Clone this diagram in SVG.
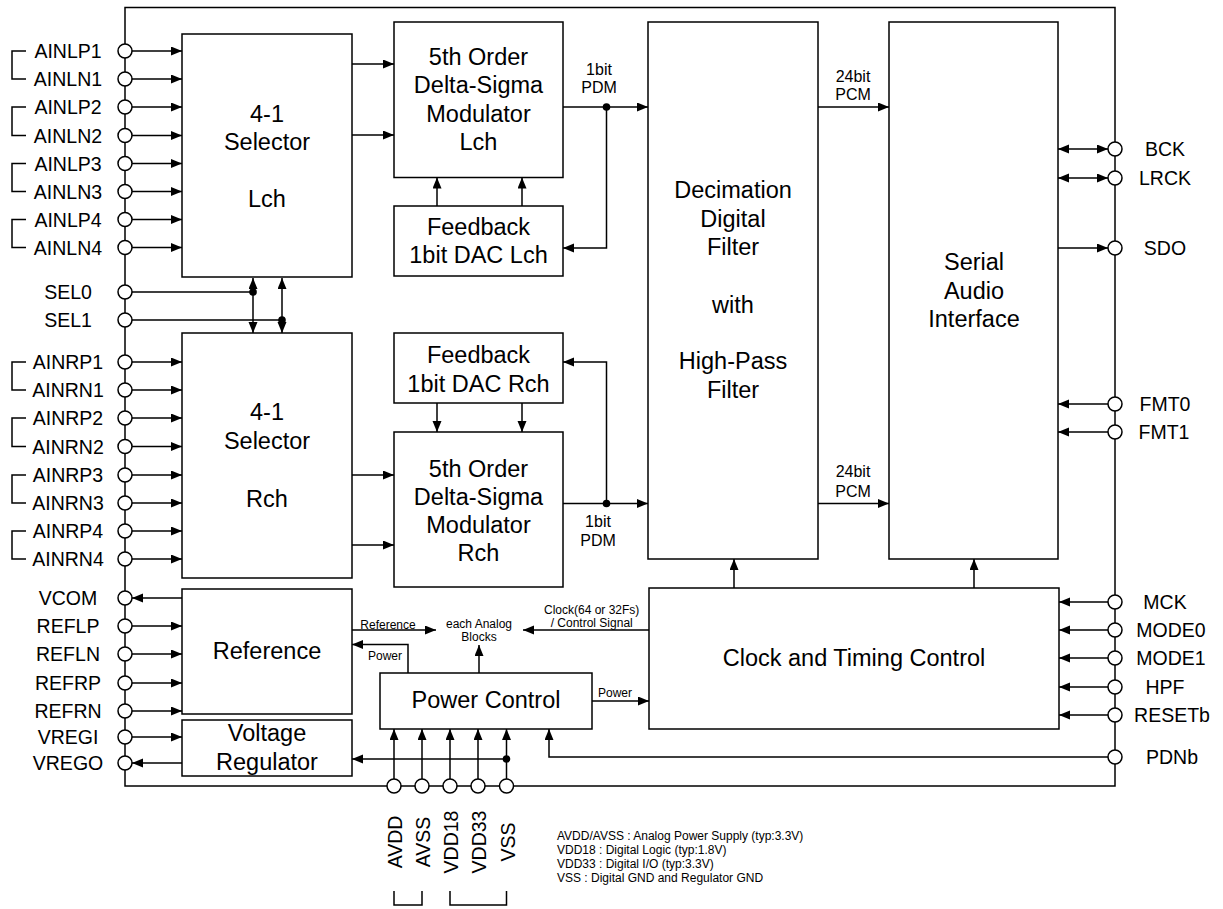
<svg xmlns="http://www.w3.org/2000/svg" width="1223" height="909" viewBox="0 0 1223 909">
<style>
text{font-family:"Liberation Sans",Arial,sans-serif;fill:#000}
.box{fill:#fff;stroke:#000;stroke-width:1.5}
.ln{fill:none;stroke:#000;stroke-width:1.5}
.a{marker-end:url(#ah)}
.aa{marker-end:url(#ah);marker-start:url(#ahs)}
.pin{fill:#fff;stroke:#000;stroke-width:1.5}
.dot{fill:#000}
.tb{font-size:23.5px;text-anchor:middle}
.tp{font-size:19.5px;text-anchor:middle}
.tm{font-size:16px;text-anchor:middle}
.ts{font-size:12px;text-anchor:middle}
.tl{font-size:12px}
</style>
<defs>
<marker id="ah" markerUnits="userSpaceOnUse" markerWidth="12" markerHeight="10" refX="11" refY="4.5" orient="auto"><path d="M0,0 L11,4.5 L0,9 z" fill="#000"/></marker>
<marker id="ahs" markerUnits="userSpaceOnUse" markerWidth="12" markerHeight="10" refX="11" refY="4.5" orient="auto-start-reverse"><path d="M0,0 L11,4.5 L0,9 z" fill="#000"/></marker>
</defs>
<rect width="1223" height="909" fill="#fff"/>
<g id="chip-outline"><rect x="125" y="7.5" width="990" height="778.5" class="ln"/></g>

<g id="connectors">
<path class="ln a" d="M132,51 H182"/><path class="ln a" d="M132,79 H182"/>
<path class="ln a" d="M132,107 H182"/><path class="ln a" d="M132,135.5 H182"/>
<path class="ln a" d="M132,163.5 H182"/><path class="ln a" d="M132,191.5 H182"/>
<path class="ln a" d="M132,219.5 H182"/><path class="ln a" d="M132,247.5 H182"/>
<path class="ln a" d="M132,362 H182"/><path class="ln a" d="M132,390 H182"/>
<path class="ln a" d="M132,418 H182"/><path class="ln a" d="M132,446.5 H182"/>
<path class="ln a" d="M132,475 H182"/><path class="ln a" d="M132,503 H182"/>
<path class="ln a" d="M132,531 H182"/><path class="ln a" d="M132,559 H182"/>
<path class="ln" d="M132,292 H253 M132,320 H282"/>
<path class="ln aa" d="M253,278 V333"/>
<path class="ln aa" d="M282,278 V333"/>
<path class="ln a" d="M182,598 H132"/>
<path class="ln a" d="M132,626 H182"/><path class="ln a" d="M132,654 H182"/>
<path class="ln a" d="M132,683 H182"/><path class="ln a" d="M132,711 H182"/>
<path class="ln a" d="M132,737 H182"/>
<path class="ln a" d="M182,763 H132"/>
<path class="ln a" d="M352,64 H394"/><path class="ln a" d="M352,135 H394"/>
<path class="ln a" d="M352,475 H394"/><path class="ln a" d="M352,545 H394"/>
<path class="ln a" d="M437,206 V177.5"/><path class="ln a" d="M522,206 V177.5"/>
<path class="ln a" d="M437,403 V432"/><path class="ln a" d="M522,403 V432"/>
<path class="ln a" d="M563,107 H648"/>
<path class="ln a" d="M606.5,107 V248 H563"/>
<path class="ln a" d="M563,503.5 H648"/>
<path class="ln a" d="M606.5,503.5 V362 H563"/>
<path class="ln a" d="M818,107 H889"/><path class="ln a" d="M818,503.5 H889"/>
<path class="ln aa" d="M1058,149 H1108"/>
<path class="ln aa" d="M1058,178 H1108"/>
<path class="ln a" d="M1058,248 H1108"/>
<path class="ln a" d="M1108,404 H1058"/><path class="ln a" d="M1108,432 H1058"/>
<path class="ln a" d="M734,588 V559"/><path class="ln a" d="M974,588 V559"/>
<path class="ln a" d="M1108,602 H1059"/><path class="ln a" d="M1108,630 H1059"/>
<path class="ln a" d="M1108,658 H1059"/><path class="ln a" d="M1108,687 H1059"/>
<path class="ln a" d="M1108,715 H1059"/>
<path class="ln a" d="M1108,757 H549 V729"/>
<path class="ln a" d="M352,630 H436"/>
<path class="ln a" d="M408,673 V644.5 H352"/>
<path class="ln a" d="M479,673 V645"/>
<path class="ln a" d="M649,630 H523"/>
<path class="ln a" d="M592,701 H649"/>
<path class="ln a" d="M394,779 V729"/><path class="ln a" d="M422,779 V729"/>
<path class="ln a" d="M450,779 V729"/><path class="ln a" d="M478,779 V729"/>
<path class="ln a" d="M506.5,779 V729"/>
<path class="ln a" d="M506.5,759 H352"/>
<circle class="dot" cx="253" cy="292" r="3.8"/>
<circle class="dot" cx="282" cy="320" r="3.8"/>
<circle class="dot" cx="606.5" cy="107" r="3.8"/>
<circle class="dot" cx="606.5" cy="503.5" r="3.8"/>
<circle class="dot" cx="506.5" cy="759" r="3.8"/>
<text class="tm" x="599" y="74.7">1bit</text>
<text class="tm" x="599" y="93.4">PDM</text>
<text class="tm" x="598" y="527.4">1bit</text>
<text class="tm" x="598" y="545.7">PDM</text>
<text class="tm" x="853" y="81.7">24bit</text>
<text class="tm" x="853" y="99.7">PCM</text>
<text class="tm" x="853" y="477.4">24bit</text>
<text class="tm" x="853" y="496.7">PCM</text>
<text class="ts" x="388" y="628.6">Reference</text>
<text class="ts" x="385" y="660.3">Power</text>
<text class="ts" x="479" y="627.6">each Analog</text>
<text class="ts" x="479" y="641">Blocks</text>
<text class="ts" x="591.7" y="613.6">Clock(64 or 32Fs)</text>
<text class="ts" x="591.7" y="627">/ Control Signal</text>
<text class="ts" x="615" y="697">Power</text>
</g>

<g id="pins-left">
<path class="ln" d="M26,51 H12 V79 H26 M26,107 H12 V135.5 H26 M26,163.5 H12 V191.5 H26 M26,219.5 H12 V247.5 H26 M26,362 H12 V390 H26 M26,418 H12 V446.5 H26 M26,475 H12 V503 H26 M26,531 H12 V559 H26"/>
<circle class="pin" cx="125" cy="51" r="7"/><circle class="pin" cx="125" cy="79" r="7"/>
<circle class="pin" cx="125" cy="107" r="7"/><circle class="pin" cx="125" cy="135.5" r="7"/>
<circle class="pin" cx="125" cy="163.5" r="7"/><circle class="pin" cx="125" cy="191.5" r="7"/>
<circle class="pin" cx="125" cy="219.5" r="7"/><circle class="pin" cx="125" cy="247.5" r="7"/>
<circle class="pin" cx="125" cy="292" r="7"/><circle class="pin" cx="125" cy="320" r="7"/>
<circle class="pin" cx="125" cy="362" r="7"/><circle class="pin" cx="125" cy="390" r="7"/>
<circle class="pin" cx="125" cy="418" r="7"/><circle class="pin" cx="125" cy="446.5" r="7"/>
<circle class="pin" cx="125" cy="475" r="7"/><circle class="pin" cx="125" cy="503" r="7"/>
<circle class="pin" cx="125" cy="531" r="7"/><circle class="pin" cx="125" cy="559" r="7"/>
<circle class="pin" cx="125" cy="598" r="7"/><circle class="pin" cx="125" cy="626" r="7"/>
<circle class="pin" cx="125" cy="654" r="7"/><circle class="pin" cx="125" cy="683" r="7"/>
<circle class="pin" cx="125" cy="711" r="7"/><circle class="pin" cx="125" cy="737" r="7"/>
<circle class="pin" cx="125" cy="763" r="7"/>
<text class="tp" x="68" y="58">AINLP1</text>
<text class="tp" x="68" y="86">AINLN1</text>
<text class="tp" x="68" y="114">AINLP2</text>
<text class="tp" x="68" y="142.5">AINLN2</text>
<text class="tp" x="68" y="170.5">AINLP3</text>
<text class="tp" x="68" y="198.5">AINLN3</text>
<text class="tp" x="68" y="226.5">AINLP4</text>
<text class="tp" x="68" y="254.5">AINLN4</text>
<text class="tp" x="68" y="299">SEL0</text>
<text class="tp" x="68" y="327">SEL1</text>
<text class="tp" x="68" y="369">AINRP1</text>
<text class="tp" x="68" y="397">AINRN1</text>
<text class="tp" x="68" y="425">AINRP2</text>
<text class="tp" x="68" y="453.5">AINRN2</text>
<text class="tp" x="68" y="482">AINRP3</text>
<text class="tp" x="68" y="510">AINRN3</text>
<text class="tp" x="68" y="538">AINRP4</text>
<text class="tp" x="68" y="566">AINRN4</text>
<text class="tp" x="68" y="605">VCOM</text>
<text class="tp" x="68" y="633">REFLP</text>
<text class="tp" x="68" y="661">REFLN</text>
<text class="tp" x="68" y="690">REFRP</text>
<text class="tp" x="68" y="718">REFRN</text>
<text class="tp" x="68" y="744">VREGI</text>
<text class="tp" x="68" y="770">VREGO</text>
</g>

<g id="pins-right">
<circle class="pin" cx="1115" cy="149" r="7"/><circle class="pin" cx="1115" cy="178" r="7"/>
<circle class="pin" cx="1115" cy="248" r="7"/><circle class="pin" cx="1115" cy="404" r="7"/>
<circle class="pin" cx="1115" cy="432" r="7"/><circle class="pin" cx="1115" cy="602" r="7"/>
<circle class="pin" cx="1115" cy="630" r="7"/><circle class="pin" cx="1115" cy="658" r="7"/>
<circle class="pin" cx="1115" cy="687" r="7"/><circle class="pin" cx="1115" cy="715" r="7"/>
<circle class="pin" cx="1115" cy="757" r="7"/>
<text class="tp" x="1165" y="156">BCK</text>
<text class="tp" x="1165" y="185">LRCK</text>
<text class="tp" x="1165" y="255">SDO</text>
<text class="tp" x="1165" y="411">FMT0</text>
<text class="tp" x="1164" y="439">FMT1</text>
<text class="tp" x="1165" y="609">MCK</text>
<text class="tp" x="1171" y="637">MODE0</text>
<text class="tp" x="1171" y="665">MODE1</text>
<text class="tp" x="1165" y="694">HPF</text>
<text class="tp" x="1172" y="722">RESETb</text>
<text class="tp" x="1172" y="764">PDNb</text>
</g>

<g id="pins-bottom">
<circle class="pin" cx="394" cy="786" r="7"/><circle class="pin" cx="422" cy="786" r="7"/>
<circle class="pin" cx="450" cy="786" r="7"/><circle class="pin" cx="478" cy="786" r="7"/>
<circle class="pin" cx="506.5" cy="786" r="7"/>
<text class="tp" transform="translate(402,842) rotate(-90)">AVDD</text>
<text class="tp" transform="translate(430,842) rotate(-90)">AVSS</text>
<text class="tp" transform="translate(458,842) rotate(-90)">VDD18</text>
<text class="tp" transform="translate(486,842) rotate(-90)">VDD33</text>
<text class="tp" transform="translate(514.5,842) rotate(-90)">VSS</text>
<path class="ln" d="M394,891 V905 H422 V891 M450,891 V905 H506.5 V891"/>
</g>

<g id="legend">
<text class="tl" x="557" y="839.6">AVDD/AVSS : Analog Power Supply (typ:3.3V)</text>
<text class="tl" x="557" y="854">VDD18 : Digital Logic (typ:1.8V)</text>
<text class="tl" x="557" y="868.3">VDD33 : Digital I/O (typ:3.3V)</text>
<text class="tl" x="557" y="882">VSS : Digital GND and Regulator GND</text>
</g>

<g id="selector-lch"><rect class="box" x="182" y="34" width="170" height="243"/>
<text class="tb" x="267" y="121.7">4-1</text><text class="tb" x="267" y="150">Selector</text><text class="tb" x="267" y="207.4">Lch</text></g>
<g id="selector-rch"><rect class="box" x="182" y="333" width="170" height="245"/>
<text class="tb" x="267" y="420">4-1</text><text class="tb" x="267" y="449.4">Selector</text><text class="tb" x="267" y="506.7">Rch</text></g>
<g id="modulator-lch"><rect class="box" x="394" y="22" width="169" height="155.5"/>
<text class="tb" x="478.5" y="65">5th Order</text><text class="tb" x="478.5" y="93.3">Delta-Sigma</text><text class="tb" x="478.5" y="121.6">Modulator</text><text class="tb" x="478.5" y="150">Lch</text></g>
<g id="feedback-lch"><rect class="box" x="394" y="206" width="169" height="70"/>
<text class="tb" x="478.5" y="235">Feedback</text><text class="tb" x="478.5" y="263.4">1bit DAC Lch</text></g>
<g id="feedback-rch"><rect class="box" x="394" y="333" width="169" height="70"/>
<text class="tb" x="478.5" y="363.4">Feedback</text><text class="tb" x="478.5" y="391.5">1bit DAC Rch</text></g>
<g id="modulator-rch"><rect class="box" x="394" y="432" width="169" height="155"/>
<text class="tb" x="478.5" y="476.5">5th Order</text><text class="tb" x="478.5" y="504.5">Delta-Sigma</text><text class="tb" x="478.5" y="532.5">Modulator</text><text class="tb" x="478.5" y="560.5">Rch</text></g>
<g id="decimation-filter"><rect class="box" x="648" y="22" width="170" height="537"/>
<text class="tb" x="733" y="198.4">Decimation</text><text class="tb" x="733" y="226.7">Digital</text><text class="tb" x="733" y="255">Filter</text><text class="tb" x="733" y="312.5">with</text><text class="tb" x="733" y="369">High-Pass</text><text class="tb" x="733" y="397.5">Filter</text></g>
<g id="serial-audio-interface"><rect class="box" x="889" y="22" width="169" height="537"/>
<text class="tb" x="974" y="270.4">Serial</text><text class="tb" x="974" y="299">Audio</text><text class="tb" x="974" y="327.4">Interface</text></g>
<g id="reference"><rect class="box" x="182" y="589" width="170" height="125"/>
<text class="tb" x="267" y="659.4">Reference</text></g>
<g id="voltage-regulator"><rect class="box" x="182" y="720" width="170" height="56"/>
<text class="tb" x="267" y="741.4">Voltage</text><text class="tb" x="267" y="770">Regulator</text></g>
<g id="power-control"><rect class="box" x="380" y="673" width="212" height="56"/>
<text class="tb" x="486" y="708.4">Power Control</text></g>
<g id="clock-timing-control"><rect class="box" x="649" y="588" width="410" height="141"/>
<text class="tb" x="854" y="666.4">Clock and Timing Control</text></g>
</svg>
